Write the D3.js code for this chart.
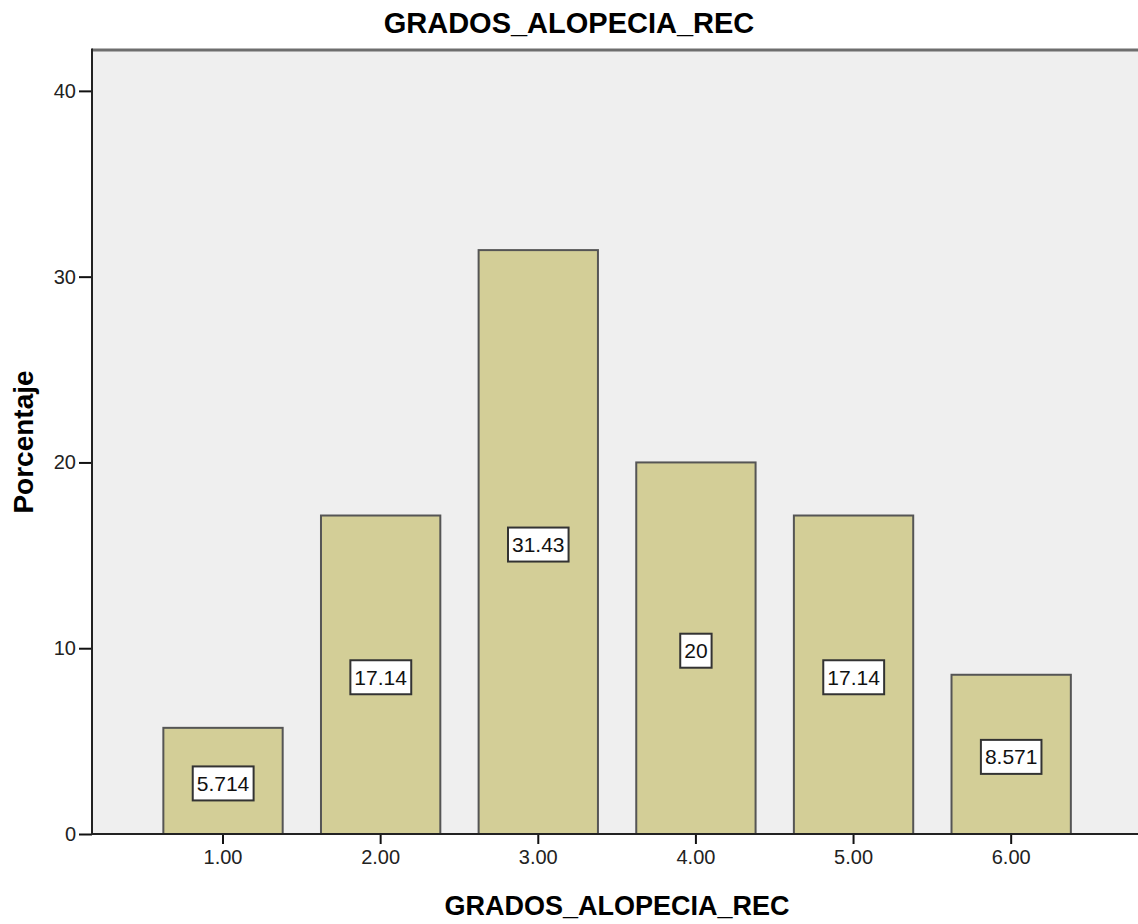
<!DOCTYPE html>
<html lang="es">
<head>
<meta charset="UTF-8">
<title>GRADOS_ALOPECIA_REC</title>
<script src="https://cdnjs.cloudflare.com/ajax/libs/d3/7.8.5/d3.min.js"></script>
<style>
    body { margin: 0; background: #fff; font-family: Arial, "Liberation Sans", sans-serif; }
    .tick text { font-size: 20px; fill: #222; }
    .tick line { stroke: #111; stroke-width: 2; }
</style>
</head>
<body>
<div id="chart"></div>
<script>
// data
const categories = ["1.00", "2.00", "3.00", "4.00", "5.00", "6.00"];
const percents = [5.714, 17.143, 31.429, 20, 17.143, 8.571];
const yTicks = [0, 10, 20, 30, 40];

const width = 1138, height = 924;
const plot = { left: 92, top: 50, right: 1142, bottom: 834 };

const svg = d3.select("#chart").append("svg")
    .attr("width", width)
    .attr("height", height);

const x = d3.scaleBand()
    .domain(categories)
    .range([144.2, 1090])
    .paddingInner(0.243)
    .paddingOuter(0.1215);

const y = d3.scaleLinear()
    .domain([0, 42.2])
    .range([plot.bottom, plot.top]);

// plot background
svg.append("rect")
    .attr("x", plot.left).attr("y", plot.top)
    .attr("width", plot.right - plot.left)
    .attr("height", plot.bottom - plot.top)
    .attr("fill", "#efefef");

// top frame line
svg.append("line")
    .attr("x1", plot.left).attr("x2", width)
    .attr("y1", plot.top).attr("y2", plot.top)
    .attr("stroke", "#6e6e6e").attr("stroke-width", 3);

// bars
svg.selectAll("rect.bar")
    .data(percents)
    .enter().append("rect")
    .attr("class", "bar")
    .attr("x", (d, i) => x(categories[i]))
    .attr("y", d => y(d))
    .attr("width", x.bandwidth())
    .attr("height", d => y(0) - y(d))
    .attr("fill", "#d3ce97")
    .attr("stroke", "#555")
    .attr("stroke-width", 2);

// value labels
const fmt = d3.format(".4~g");
const labels = svg.selectAll("g.lab")
    .data(percents)
    .enter().append("g")
    .attr("class", "lab")
    .attr("transform", (d, i) =>
        `translate(${x(categories[i]) + x.bandwidth() / 2},${(y(d) + y(0)) / 2 + 2.5})`);

labels.append("text")
    .attr("text-anchor", "middle")
    .attr("dy", "0.36em")
    .attr("font-size", 21)
    .attr("fill", "#111")
    .text(d => fmt(d))
    .each(function() {
        const b = this.getBBox();
        d3.select(this.parentNode).insert("rect", "text")
            .attr("x", b.x - 4).attr("y", -17)
            .attr("width", b.width + 8).attr("height", 34)
            .attr("fill", "#fff")
            .attr("stroke", "#333")
            .attr("stroke-width", 2);
    });

// axes
const yAxis = svg.append("g")
    .attr("transform", `translate(${plot.left},0)`)
    .call(d3.axisLeft(y).tickValues(yTicks).tickSize(13).tickPadding(3).tickFormat(d3.format("d")));
yAxis.select(".domain").remove();

const xAxis = svg.append("g")
    .attr("transform", `translate(0,${plot.bottom})`)
    .call(d3.axisBottom(x).tickSize(10).tickPadding(6));
xAxis.select(".domain").remove();

svg.append("line")
    .attr("x1", plot.left).attr("x2", plot.left)
    .attr("y1", plot.top - 1.5).attr("y2", plot.bottom + 1)
    .attr("stroke", "#222").attr("stroke-width", 2);
svg.append("line")
    .attr("x1", plot.left).attr("x2", width)
    .attr("y1", plot.bottom).attr("y2", plot.bottom)
    .attr("stroke", "#222").attr("stroke-width", 2);

// titles
svg.append("text")
    .attr("x", width / 2).attr("y", 33)
    .attr("text-anchor", "middle")
    .attr("font-size", 29).attr("font-weight", "bold")
    .text("GRADOS_ALOPECIA_REC");

svg.append("text")
    .attr("x", (plot.left + plot.right) / 2).attr("y", 915)
    .attr("text-anchor", "middle")
    .attr("font-size", 27).attr("font-weight", "bold")
    .text("GRADOS_ALOPECIA_REC");

svg.append("text")
    .attr("transform", `translate(33,${(plot.top + plot.bottom) / 2}) rotate(-90)`)
    .attr("text-anchor", "middle")
    .attr("font-size", 28).attr("font-weight", "bold")
    .text("Porcentaje");
</script>
</body>
</html>
